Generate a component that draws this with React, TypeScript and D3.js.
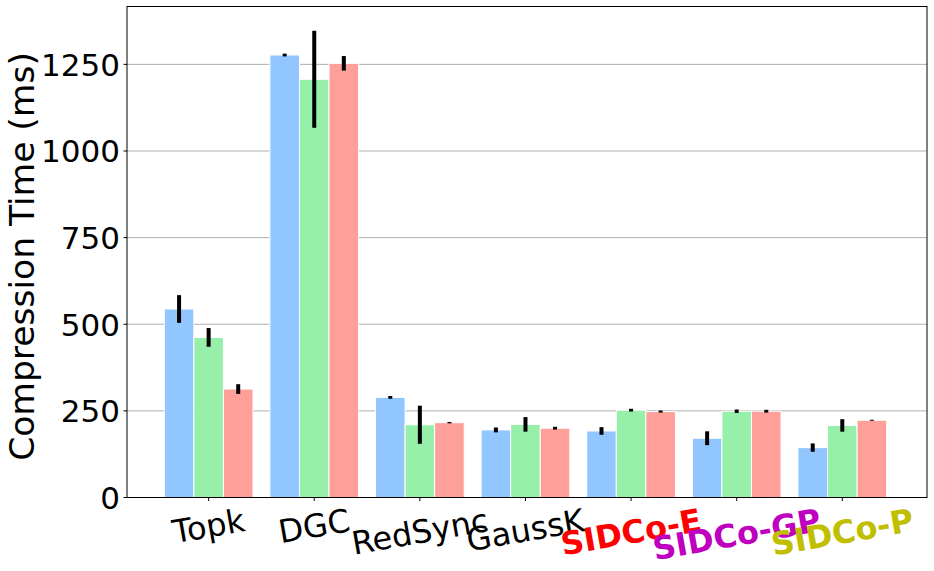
import React, { useEffect, useRef } from "react";
import * as d3 from "d3";

const categories = ["Topk", "DGC", "RedSync", "GaussK", "SIDCo-E", "SIDCo-GP", "SIDCo-P"];
const labelColors = ["#000000", "#000000", "#000000", "#000000", "#ff0000", "#bf00bf", "#bfbf00"];
const labelBold = [false, false, false, false, true, true, true];
const seriesA = [544, 1277, 289, 195, 192, 171, 144];
const errA = [40, 4, 4, 7, 11, 20, 12];
const seriesB = [462, 1207, 210, 211, 252, 249, 208];
const errB = [27, 140, 55, 21, 4, 5, 18];
const seriesC = [313, 1253, 216, 200, 248, 249, 223];
const errC = [14, 21, 2, 4, 3, 4, 1.5];
const yTicks = [0, 250, 500, 750, 1000, 1250];
const seriesColors = ["#92C6FF", "#97F0AA", "#FF9F9A"];
const yLabel = "Compression Time (ms)";

const W = 934;
const H = 571;
const FONT = "DejaVu Sans";
const FS_TICK = 31;
const FS_XLAB = 32;
const FS_YLAB = 34.5;

export default function App() {
  const ref = useRef<SVGSVGElement>(null);
  useEffect(() => {
    const svg = d3.select(ref.current);
    svg.selectAll("*").remove();
    const left = 127, right = 927, top = 6.5, bottom = 497.5;
    const x = d3.scaleLinear().domain([-0.773, 6.802]).range([left, right]);
    const y = d3.scaleLinear().domain([0, 1417]).range([bottom, top]);
    const bw = 0.28;

    // grid
    svg.append("g").selectAll("line").data(yTicks.filter((t) => t > 0)).join("line")
      .attr("x1", left).attr("x2", right)
      .attr("y1", (d) => y(d)).attr("y2", (d) => y(d))
      .attr("stroke", "#b0b0b0").attr("stroke-width", 1);

    const series = [
      { v: seriesA, e: errA },
      { v: seriesB, e: errB },
      { v: seriesC, e: errC },
    ];
    series.forEach((s, si) => {
      const g = svg.append("g");
      g.selectAll("rect").data(s.v).join("rect")
        .attr("x", (d, i) => x(i + (si - 1) * bw - bw / 2))
        .attr("width", x(bw) - x(0))
        .attr("y", (d) => y(d))
        .attr("height", (d) => y(0) - y(d))
        .attr("fill", seriesColors[si])
        .attr("stroke", "#ffffff").attr("stroke-width", 1);
    });
    series.forEach((s, si) => {
      svg.append("g").selectAll("line").data(s.v).join("line")
        .attr("x1", (d, i) => x(i + (si - 1) * bw)).attr("x2", (d, i) => x(i + (si - 1) * bw))
        .attr("y1", (d, i) => y(d - s.e[i])).attr("y2", (d, i) => y(d + s.e[i]))
        .attr("stroke", "#000").attr("stroke-width", 4);
    });

    // frame
    svg.append("rect").attr("x", left).attr("y", top).attr("width", right - left).attr("height", bottom - top)
      .attr("fill", "none").attr("stroke", "#000").attr("stroke-width", 1);

    // y ticks
    const yt = svg.append("g");
    yt.selectAll("line").data(yTicks).join("line")
      .attr("x1", left - 3.5).attr("x2", left).attr("y1", (d) => y(d)).attr("y2", (d) => y(d))
      .attr("stroke", "#000").attr("stroke-width", 1);
    yt.selectAll("text").data(yTicks).join("text")
      .attr("x", left - 7).attr("y", (d) => y(d) + 0.364 * FS_TICK)
      .attr("text-anchor", "end").attr("font-family", FONT).attr("font-size", FS_TICK)
      .attr("fill", "#000").text((d) => String(d));

    // x ticks
    const xt = svg.append("g");
    xt.selectAll("line").data(categories).join("line")
      .attr("x1", (d, i) => x(i)).attr("x2", (d, i) => x(i)).attr("y1", bottom).attr("y2", bottom + 3.5)
      .attr("stroke", "#000").attr("stroke-width", 1);
    const theta = (10 * Math.PI) / 180;
    categories.forEach((c, i) => {
      const g = xt.append("g");
      const t = g.append("text")
        .attr("text-anchor", "middle").attr("font-family", FONT).attr("font-size", FS_XLAB)
        .attr("font-weight", labelBold[i] ? "bold" : "normal")
        .attr("fill", labelColors[i]).attr("x", 0).attr("y", 0.346 * FS_XLAB).text(c);
      const tw = (t.node() as SVGTextElement).getComputedTextLength();
      const th = 1.164 * FS_XLAB;
      const bh = tw * Math.sin(theta) + th * Math.cos(theta);
      const cy = bottom + 4 + bh / 2;
      g.attr("transform", `translate(${x(i)},${cy}) rotate(-10)`);
    });

    // y label
    svg.append("text")
      .attr("transform", `translate(34,256.5) rotate(-90)`)
      .attr("text-anchor", "middle").attr("font-family", FONT).attr("font-size", FS_YLAB)
      .attr("fill", "#000").text(yLabel);
  }, []);
  return (
    <svg ref={ref} width={W} height={H} style={{ position: "absolute", left: 0, top: 0, background: "#fff" }} />
  );
}
